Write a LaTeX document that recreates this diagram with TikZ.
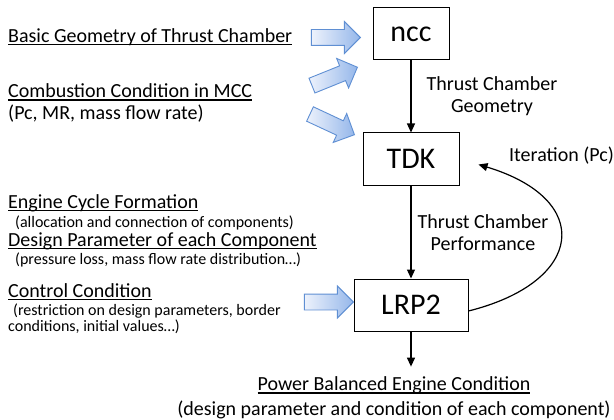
\documentclass[tikz,border=0pt]{standalone}
\usepackage{fontspec}
\setmainfont{Carlito}
\usetikzlibrary{positioning,arrows.meta,shapes.arrows}
\definecolor{feedline}{HTML}{5F8FD3}
\definecolor{feedlight}{HTML}{EDF2FC}
\definecolor{feeddark}{HTML}{95B7EA}
\newcommand{\ulin}[1]{\setbox0\hbox{#1}\rlap{\rule[-3pt]{\wd0}{1.3pt}}\box0}

\begin{document}
\begin{tikzpicture}[
  x=1pt, y=-1pt,
  box/.style={
    rectangle, draw=black, line width=1pt,
    minimum height=52pt, inner sep=0pt,
    font=\fontsize{30}{36}\selectfont,
  },
  feed/.style={
    single arrow, draw=feedline, line width=0.9pt,
    left color=feedlight, right color=feeddark,
    minimum height=49pt, inner xsep=0pt, inner ysep=7.5pt,
    text height=0pt, text depth=0pt,
    single arrow head extend=8pt, anchor=tip,
  },
  flow/.style={-{Triangle[length=9pt,width=8pt]}, line width=1.2pt},
  lbl/.style={font=\fontsize{20}{22.3}\selectfont, inner sep=0pt, anchor=base west},
  note/.style={lbl, font=\fontsize{16}{15}\selectfont},
]
\useasboundingbox (0,0) rectangle (614,420);

\node[box, minimum width=76pt]                  (ncc)  at (411,34) {ncc};
\node[box, minimum width=96pt, below=72pt of ncc] (tdk)  {TDK};
\node[box, minimum width=114pt, below=93pt of tdk] (lrp2) {LRP2};

\node[feed]            (fgeo)  at (361,37.5) {};
\node[feed, rotate=22]  (fcomb) at (358,67)   {};
\node[feed, rotate=-25] (fmcc)  at (355,135)  {};
\node[feed]            (fctrl) at (354,302)  {};

\node[lbl] (geo)     at (8,42.5)  {\ulin{Basic Geometry of Thrust Chamber}};
\node[lbl] (comb)    at (8,97.7)  {\ulin{Combustion Condition in MCC}};
\node[lbl] (combsub) at (8,120)   {(Pc, MR, mass flow rate)};
\node[lbl] (cyc)     at (8,208.3) {\ulin{Engine Cycle Formation}};
\node[note] (cycsub) at (15,227.3) {(allocation and connection of components)};
\node[lbl] (dsg)     at (8,246)   {\ulin{Design Parameter of each Component}};
\node[note] (dsgsub) at (15,264)  {(pressure loss, mass flow rate distribution\ldots)};
\node[lbl] (ctl)     at (8,297.3) {\ulin{Control Condition}};
\node[note] (ctlsub) at (13,315.5) {(restriction on design parameters, border};
\node[note] (ctlsub2) at (8,331)   {conditions, initial values\ldots)};

\node[lbl, anchor=base, align=center] (geom) at (492,113)   {Thrust Chamber\\Geometry};
\node[lbl, anchor=base, align=center] (perf) at (483,250.3) {Thrust Chamber\\Performance};
\node[lbl] (iter) at (509,161.3) {Iteration (Pc)};
\node[lbl, anchor=base, align=center, font=\fontsize{20}{25}\selectfont] (out) at (394,415.7)
  {\ulin{Power Balanced Engine Condition}\\(design parameter and condition of each component)};

\draw[flow] (ncc) -- (tdk);
\draw[flow] (tdk) -- (lrp2);
\draw[flow, shorten >=10pt] (lrp2) -- (lrp2.south |- out.north);
\draw[flow] ([yshift=-6pt]lrp2.east) .. controls +(116,-29) and +(116,35) .. ([xshift=19pt,yshift=-5.5pt]tdk.east);
\end{tikzpicture}
\end{document}
